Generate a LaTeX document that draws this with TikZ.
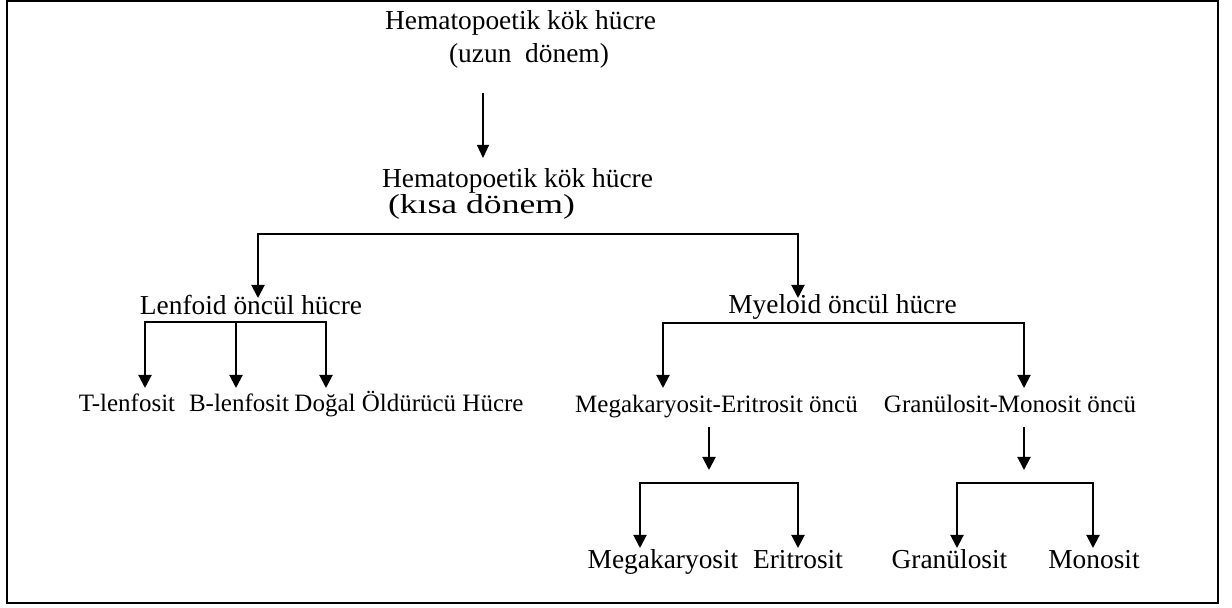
\documentclass[tikz,border=0pt]{standalone}
\usepackage{fontspec}
\setmainfont{Liberation Serif}
\usetikzlibrary{arrows.meta}
\begin{document}
\begin{tikzpicture}[x=0.5pt,y=-0.5pt,
  lab/.style={anchor=base,inner sep=0pt,font=\fontsize{13.7}{16}\selectfont},
  labm/.style={anchor=base,inner sep=0pt,font=\fontsize{12.5}{15}\selectfont},
  tip/.style={Triangle[width=6.5pt,length=6.5pt]},
  arr/.style={line width=1pt,-{Triangle[width=6.5pt,length=6.5pt]}},
  arrtwo/.style={line width=1pt,line join=miter,{Triangle[width=6.5pt,length=6.5pt]}-{Triangle[width=6.5pt,length=6.5pt]}},
  thinarr/.style={line width=0.6pt,-{Triangle[width=6pt,length=6.5pt]}},
  frame/.style={line width=1pt}]
\useasboundingbox (0,0) rectangle (1232,608);
\draw[frame] (7,1.5) rectangle (1217.5,603.5);

% nodes
\node[lab] (hsl)  at (520.5,30) {Hematopoetik kök hücre};
\node[lab] (hsl2) at (529,63) {(uzun~ dönem)};
\node[lab] (hss)  at (517.5,188) {Hematopoetik kök hücre};
\node[lab] (hss2) at (481.5,214) {\scalebox{1.3}[1]{(kısa dönem)}};
\node[lab] (lenf) at (251,315) {Lenfoid öncül hücre};
\node[lab] (myel) at (842.5,314) {Myeloid öncül hücre};
\node[labm] (tl)  at (127,412) {T-lenfosit};
\node[labm] (bl)  at (239,412) {B-lenfosit};
\node[labm] (nk)  at (409,412) {Doğal Öldürücü Hücre};
\node[labm] (mep) at (716.5,413) {Megakaryosit-Eritrosit öncü};
\node[labm] (gmp) at (1010,413) {Granülosit-Monosit öncü};
\node[lab] (mk)   at (663,569) {Megakaryosit};
\node[lab] (er)   at (798,569) {Eritrosit};
\node[lab] (gr)   at (949.5,569) {Granülosit};
\node[lab] (mo)   at (1094,569) {Monosit};

% connector points
\coordinate (c0a) at (483,93);   \coordinate (c0b) at (483,158);
\coordinate (c1l) at (258,298);  \coordinate (c1ly) at (258,234);
\coordinate (c1ry) at (798,234); \coordinate (c1r) at (798,298);
\coordinate (c2l) at (145,388);  \coordinate (c2ly) at (145,322);
\coordinate (c2ry) at (326,322); \coordinate (c2r) at (326,388);
\coordinate (c2my) at (236,322); \coordinate (c2m) at (236,388);
\coordinate (c3l) at (663,388);  \coordinate (c3ly) at (663,323);
\coordinate (c3ry) at (1024,323);\coordinate (c3r) at (1024,388);
\coordinate (c4a) at (709,427);  \coordinate (c4b) at (709,470);
\coordinate (c5a) at (1024,427); \coordinate (c5b) at (1024,470);
\coordinate (c6l) at (640,548);  \coordinate (c6ly) at (640,483);
\coordinate (c6ry) at (798,483); \coordinate (c6r) at (798,548);
\coordinate (c7l) at (957,548);  \coordinate (c7ly) at (957,483);
\coordinate (c7ry) at (1093,483);\coordinate (c7r) at (1093,548);

% connectors
\draw[thinarr] (c0a) -- (c0b);
\draw[arrtwo] (c1l) -- (c1ly) -- (c1ry) -- (c1r);
\draw[arrtwo] (c2l) -- (c2ly) -- (c2ry) -- (c2r);
\draw[arr] (c2my) -- (c2m);
\draw[arrtwo] (c3l) -- (c3ly) -- (c3ry) -- (c3r);
\draw[arr] (c4a) -- (c4b);
\draw[arr] (c5a) -- (c5b);
\draw[arrtwo] (c6l) -- (c6ly) -- (c6ry) -- (c6r);
\draw[arrtwo] (c7l) -- (c7ly) -- (c7ry) -- (c7r);
\end{tikzpicture}
\end{document}
